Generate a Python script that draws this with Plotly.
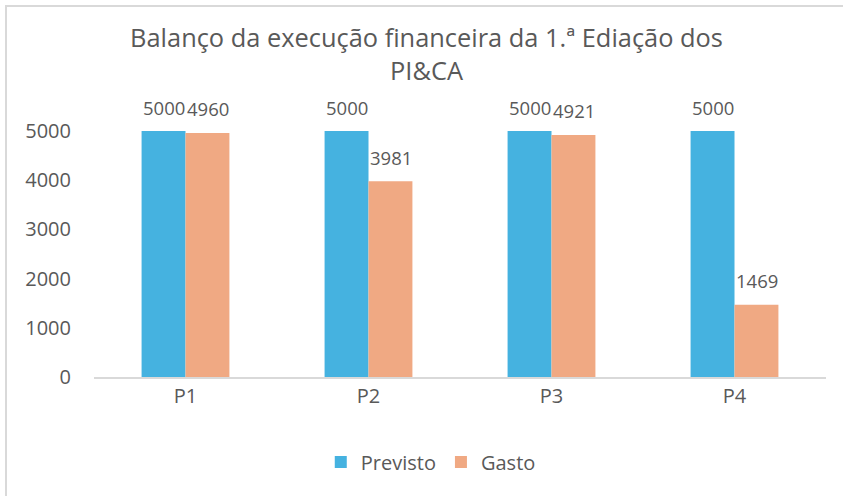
import plotly.graph_objects as go

categories = ["P1", "P2", "P3", "P4"]
previsto = [5000, 5000, 5000, 5000]
gasto = [4960, 3981, 4921, 1469]
y_ticks = [0, 1000, 2000, 3000, 4000, 5000]
title_text = "Balanço da execução financeira da 1.ª Ediação dos<br>PI&CA"

BLUE = "#45B2E0"
SALMON = "#F0A983"
TXT = "#595959"
FONT = "Open Sans"

W, H = 843, 496
L, R, T, B = 94, 17, 131, 119

fig = go.Figure()
fig.add_trace(go.Bar(name="Previsto", x=categories, y=previsto, marker_color=BLUE,
                     marker_line_width=0, cliponaxis=False))
fig.add_trace(go.Bar(name="Gasto", x=categories, y=gasto, marker_color=SALMON,
                     marker_line_width=0, cliponaxis=False))

annotations = []
for series, shift in ((previsto, -22), (gasto, 22)):
    for c, v in zip(categories, series):
        annotations.append(dict(x=c, y=v, xref="x", yref="y", text=str(v), showarrow=False,
                                xshift=shift, yshift=24, yanchor="middle",
                                font=dict(family=FONT, size=18.5, color=TXT)))

pw = W - L - R
ph = H - T - B
def px_to_paper_x(px):
    return (px - L) / pw
def px_to_paper_y(py):
    return (H - B - py) / ph

shapes = [
    dict(type="line", xref="paper", yref="paper", x0=px_to_paper_x(6), x1=px_to_paper_x(6),
         y0=px_to_paper_y(5), y1=px_to_paper_y(H + 5), line=dict(color="#D9D9D9", width=2)),
    dict(type="line", xref="paper", yref="paper", x0=px_to_paper_x(5), x1=px_to_paper_x(W + 5),
         y0=px_to_paper_y(6), y1=px_to_paper_y(6), line=dict(color="#D9D9D9", width=2)),
]

fig.update_layout(
    width=W, height=H,
    margin=dict(l=L, r=R, t=T, b=B, pad=0),
    paper_bgcolor="white", plot_bgcolor="white",
    barmode="group", bargap=0.52, bargroupgap=0,
    font=dict(family=FONT, color=TXT),
    title=dict(text=title_text, x=0.506, xanchor="center", xref="container",
               y=1 - 47 / H, yanchor="middle", yref="container",
               font=dict(family=FONT, size=25.4, color=TXT)),
    legend=dict(orientation="h", x=0.511, xanchor="center", xref="container",
                y=1 - 462 / H, yanchor="middle", yref="container",
                font=dict(family=FONT, size=20, color=TXT), itemclick=False,
                traceorder="normal"),
    annotations=annotations,
    shapes=shapes,
    hovermode=False,
)
fig.update_xaxes(showline=True, linecolor="#D9D9D9", linewidth=2, showgrid=False,
                 ticks="", tickfont=dict(family=FONT, size=20, color=TXT),
                 ticklabelstandoff=0, zeroline=False)
fig.update_yaxes(range=[0, 5000], tickvals=y_ticks, showgrid=False, zeroline=False,
                 showline=False, tickfont=dict(family=FONT, size=20, color=TXT),
                 ticklabelstandoff=22)

fig.write_html("out.html", config={"displayModeBar": False},
               post_script="document.body.style.margin='0px';")
